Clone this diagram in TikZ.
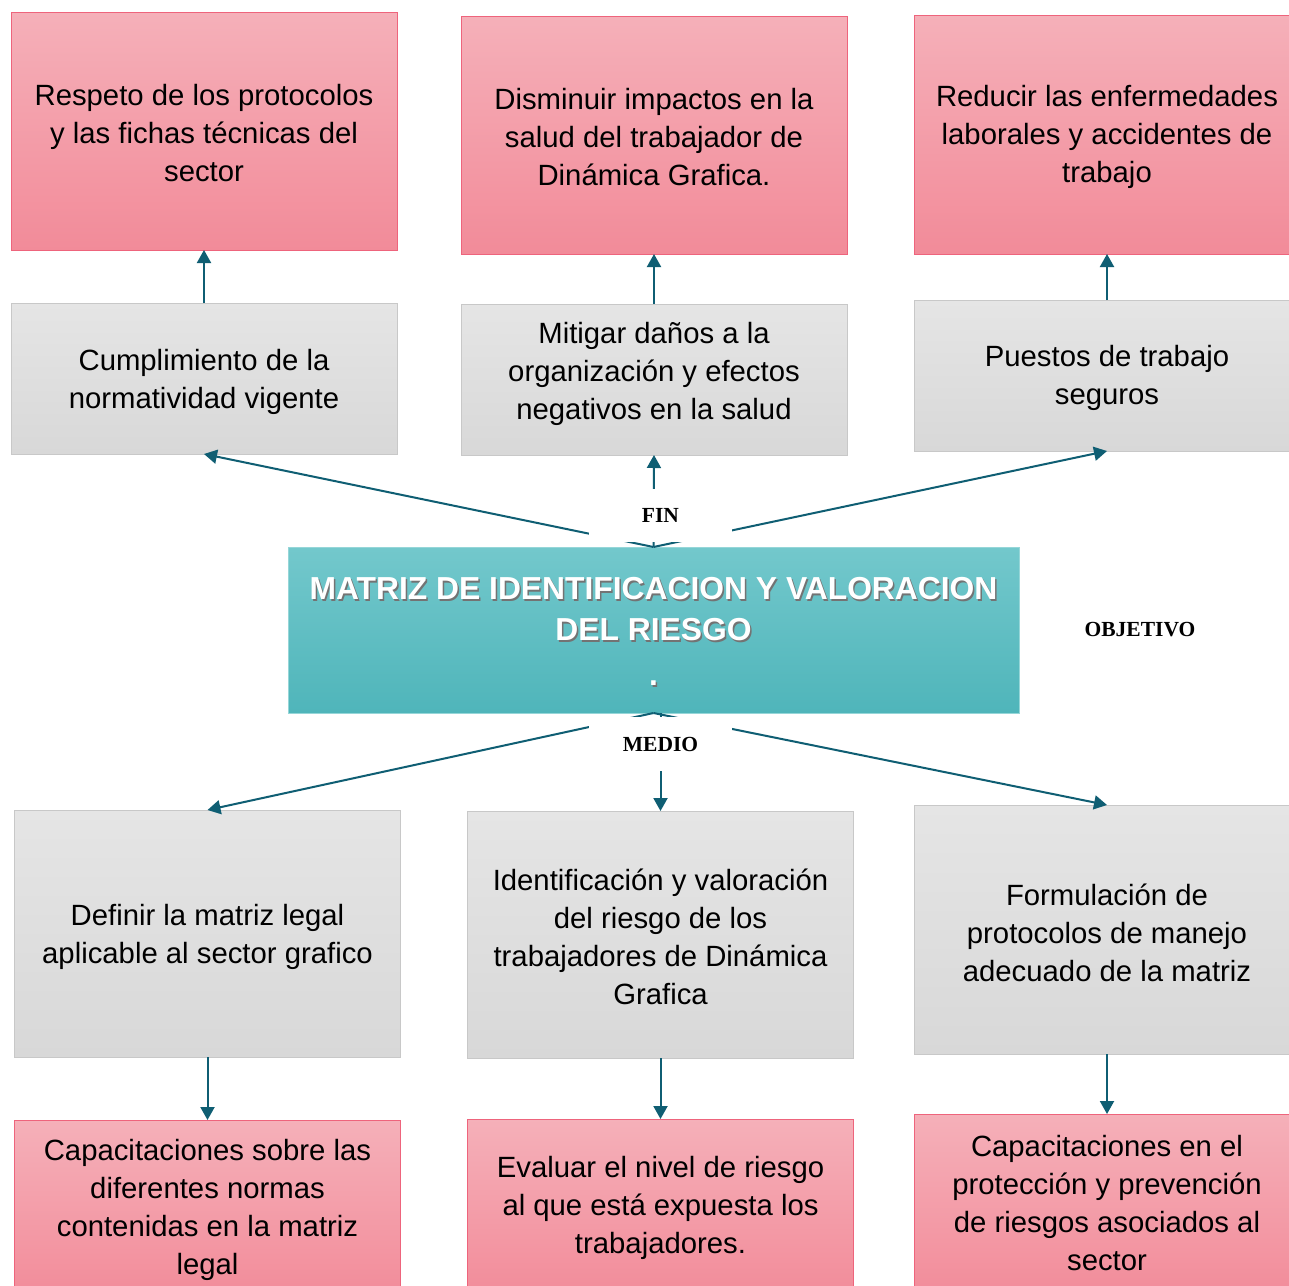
\documentclass[tikz,border=0pt]{standalone}
\usepackage{fontspec}
\setmainfont{Liberation Sans}
\newfontfamily\labfont{Liberation Serif}
\usetikzlibrary{arrows.meta,shadings}
\definecolor{pinktop}{RGB}{245,176,185}
\definecolor{pinkbot}{RGB}{242,139,153}
\definecolor{pinkline}{RGB}{238,100,124}
\definecolor{graytop}{RGB}{229,229,229}
\definecolor{graybot}{RGB}{216,216,216}
\definecolor{grayline}{RGB}{200,200,200}
\definecolor{tealtop}{RGB}{115,200,204}
\definecolor{tealbot}{RGB}{79,181,186}
\definecolor{tealline}{RGB}{150,214,216}
\definecolor{arrowc}{RGB}{15,94,115}
\tikzset{
  x=1pt, y=-1pt,
  bodyfont/.style={font=\fontsize{29.3}{38}\selectfont},
  boxbase/.style={rectangle, inner sep=0pt, outer sep=0pt, line width=1pt,
    minimum width=386pt, align=center, bodyfont},
  pinkbox/.style={boxbase, draw=pinkline, top color=pinktop, bottom color=pinkbot},
  graybox/.style={boxbase, draw=grayline, top color=graytop, bottom color=graybot},
  boxtext/.style={align=center, inner sep=0pt, bodyfont},
  titlebox/.style={rectangle, inner sep=0pt, outer sep=0pt, line width=1pt,
    draw=tealline, top color=tealtop, bottom color=tealbot,
    minimum width=731pt, minimum height=166pt},
  titletext/.style={align=center, text=white, inner sep=0pt,
    font=\bfseries\fontsize{31.8}{41}\selectfont},
  labelbox/.style={rectangle, fill=white, inner sep=0pt,
    font=\labfont\bfseries\fontsize{21.5}{24}\selectfont},
  arr/.style={draw=arrowc, line width=2pt,
    -{Triangle[length=13pt,width=14pt]}}
}
\begin{document}
\begin{tikzpicture}
\path[use as bounding box, clip] (0,0) rectangle (1289,1285);
\fill[white] (0,0) rectangle (1289,1285);

% top row (fin)
\node[pinkbox, minimum height=238pt] (p1) at (204,131) {};
\node[boxtext] at (204,133)
  {Respeto de los protocolos\\y las fichas técnicas del\\sector};
\node[pinkbox, minimum height=238pt] (p2) at (654,135) {};
\node[boxtext] at (654,137)
  {Disminuir impactos en la\\salud del trabajador de\\Dinámica Grafica.};
\node[pinkbox, minimum height=239pt] (p3) at (1107,134.5) {};
\node[boxtext] at (1107,137)
  {Reducir las enfermedades\\laborales y accidentes de\\trabajo};

\node[graybox, minimum height=151pt] (g1) at (204,378.5) {};
\node[boxtext] at (204,381.5)
  {Cumplimiento de la\\normatividad vigente};
\node[graybox, minimum height=151pt] (g2) at (654,379.5) {};
\node[boxtext] at (654,374)
  {Mitigar daños a la\\organización y efectos\\negativos en la salud};
\node[graybox, minimum height=151pt] (g3) at (1107,375.5) {};
\node[boxtext] at (1107,378)
  {Puestos de trabajo\\seguros};

% center
\node[titlebox] (title) at (653.5,630) {};
\node[titletext, text=black!55] at (655,633)
  {MATRIZ DE IDENTIFICACION Y VALORACION\\DEL RIESGO\\[4pt].};
\node[titletext] at (653.5,631.5)
  {MATRIZ DE IDENTIFICACION Y VALORACION\\DEL RIESGO\\[4pt].};

% bottom rows (medio)
\node[graybox, minimum height=247pt] (g4) at (207.5,933.5) {};
\node[boxtext] at (207.5,936.5)
  {Definir la matriz legal\\aplicable al sector grafico};
\node[graybox, minimum height=247pt] (g5) at (660.5,934.5) {};
\node[boxtext] at (660.5,937)
  {Identificación y valoración\\del riesgo de los\\trabajadores de Dinámica\\Grafica};
\node[graybox, minimum height=249pt] (g6) at (1107,929.5) {};
\node[boxtext] at (1107,932.5)
  {Formulación de\\protocolos de manejo\\adecuado de la matriz};

\node[pinkbox, minimum height=180pt] (p4) at (207.5,1210) {};
\node[boxtext] at (207.5,1209.5)
  {Capacitaciones sobre las\\diferentes normas\\contenidas en la matriz\\legal};
\node[pinkbox, minimum height=180pt] (p5) at (660.5,1209) {};
\node[boxtext] at (660.5,1207.5)
  {Evaluar el nivel de riesgo\\al que está expuesta los\\trabajadores.};
\node[pinkbox, minimum height=186pt] (p6) at (1107,1207) {};
\node[boxtext] at (1107,1203.5)
  {Capacitaciones en el\\protección y prevención\\de riesgos asociados al\\sector};

% connectors
\draw[arr] (g1.north) -- (p1.south);
\draw[arr] (g2.north) -- (p2.south);
\draw[arr] (g3.north) -- (p3.south);
\draw[arr] (title.north) -- (g1.south);
\draw[arr] (title.north) -- (g2.south);
\draw[arr] (title.north) -- (g3.south);
\draw[arr] (title.south) -- (g4.north);
\draw[arr] (title.south -| g5.north) -- (g5.north);
\draw[arr] (title.south) -- (g6.north);
\draw[arr] (g4.south) -- (p4.north);
\draw[arr] (g5.south) -- (p5.north);
\draw[arr] (g6.south) -- (p6.north);

% labels
\node[labelbox, minimum width=143pt, minimum height=53pt] (fin) at (660.5,515.5) {FIN};
\node[labelbox, minimum width=143pt, minimum height=54pt] (medio) at (660.5,744) {MEDIO};
\node[labelbox, minimum width=194pt, minimum height=48pt] (objetivo) at (1140,630) {OBJETIVO};
\end{tikzpicture}
\end{document}
